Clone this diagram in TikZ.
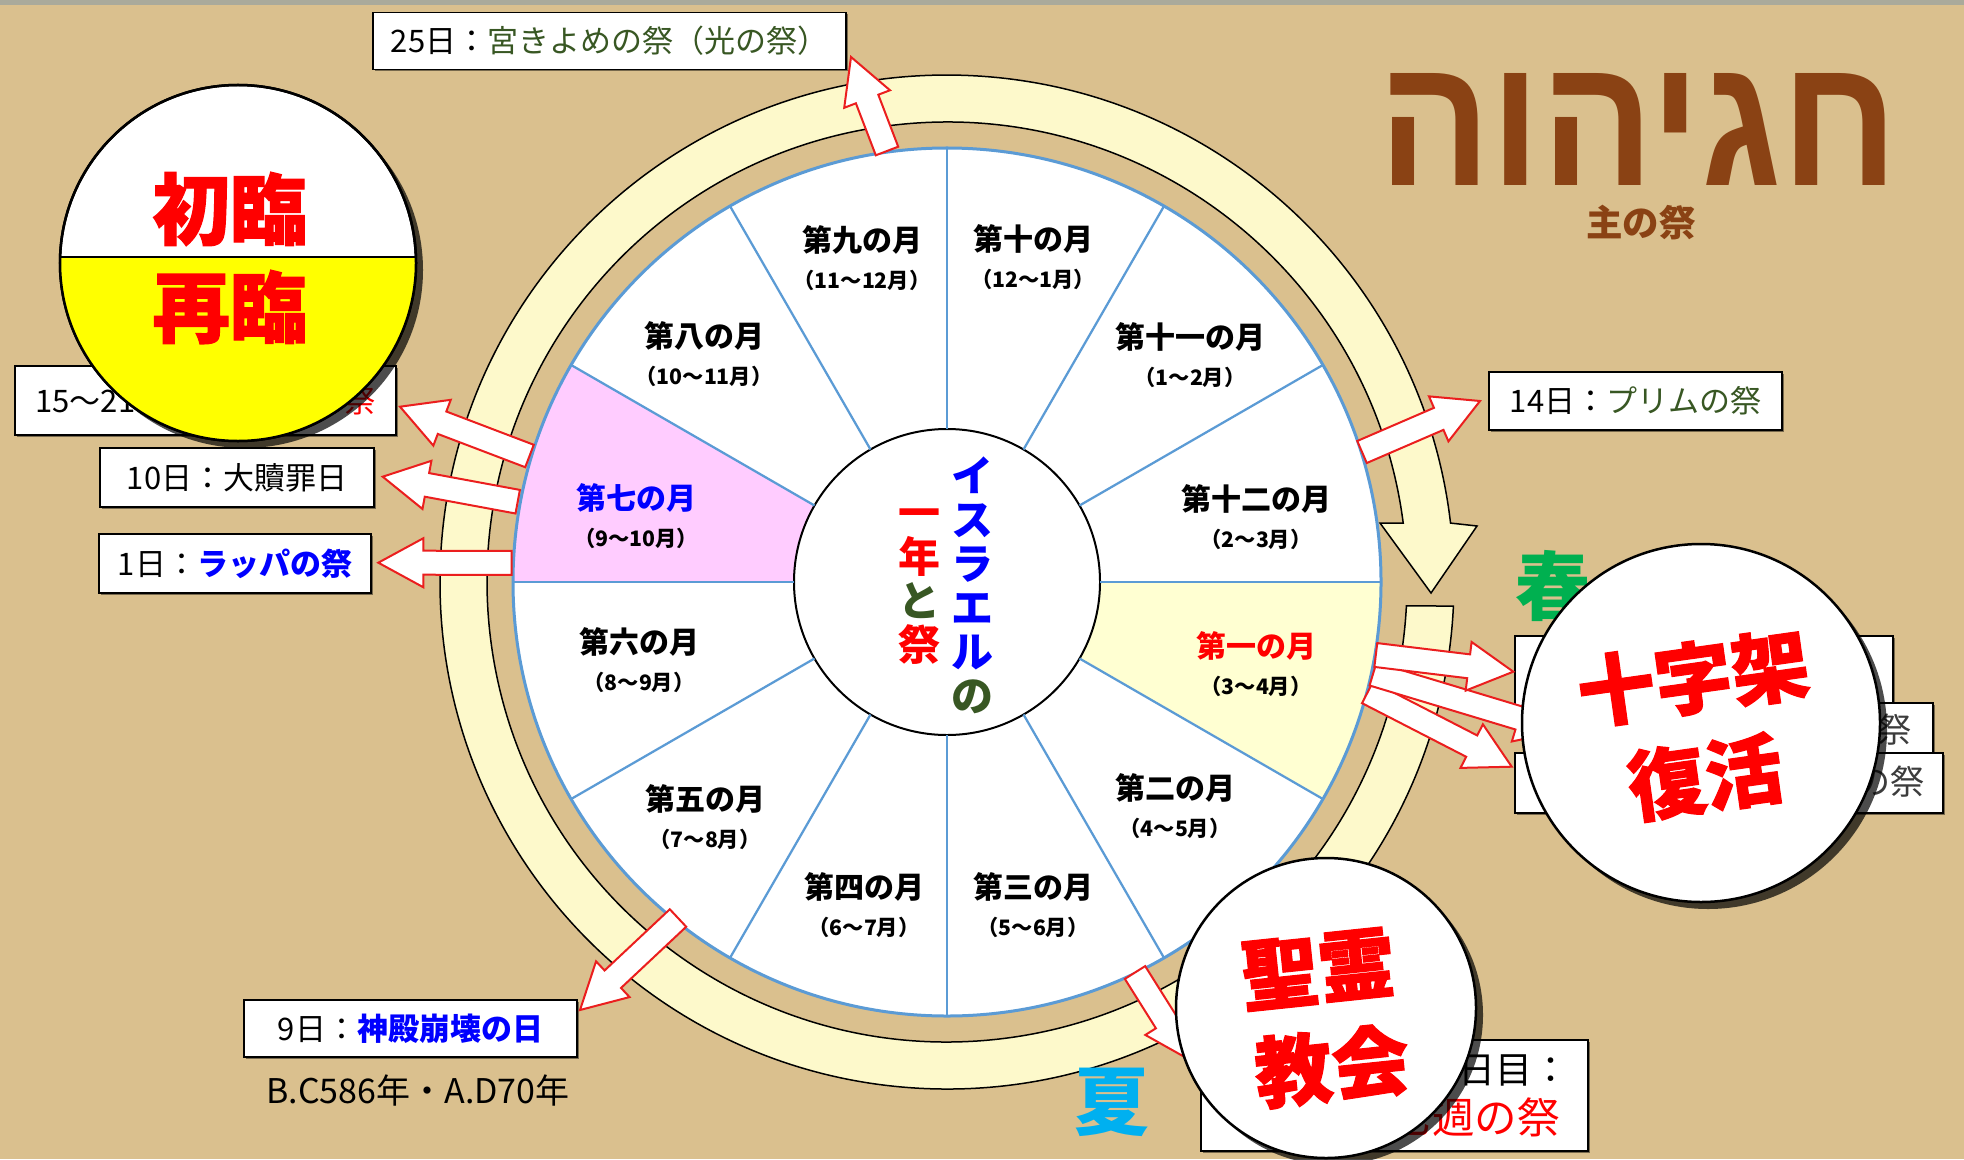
\documentclass[tikz,border=0pt]{standalone}
\usepackage{fontspec}
\usepackage{graphicx}
\setmainfont{Noto Sans CJK JP}
\newfontfamily\jpheavy[BoldFeatures={FakeBold=1.5}]{Noto Sans CJK JP}
\newfontfamily\hebfont[Script=Hebrew]{Liberation Sans}
\TeXXeTstate=1
\usetikzlibrary{calc,shadows}
\definecolor{bg}{RGB}{218,192,142}
\definecolor{topstrip}{RGB}{170,170,155}
\definecolor{ringfill}{RGB}{253,249,203}
\definecolor{mon1}{RGB}{255,255,210}
\definecolor{mon7}{RGB}{255,204,255}
\definecolor{wheelblue}{RGB}{91,155,213}
\definecolor{dgreen}{RGB}{56,87,35}
\definecolor{jblue}{RGB}{0,0,255}
\definecolor{jred}{RGB}{255,0,0}
\definecolor{brownt}{RGB}{138,66,20}
\definecolor{summer}{RGB}{0,176,240}
\definecolor{spring}{RGB}{0,176,80}
\definecolor{arrowred}{RGB}{235,30,30}
\definecolor{yel}{RGB}{255,255,0}
\definecolor{greytxt}{RGB}{60,60,60}
\tikzset{
  blk/.style={draw=arrowred, fill=white, line width=0.8pt, line join=miter},
  fbox/.style={draw=black, fill=white, line width=0.6pt, inner sep=0pt, outer sep=0pt,
    font=\fontsize{12.4pt}{15pt}\selectfont,
    drop shadow={shadow xshift=0.8pt, shadow yshift=-0.8pt, opacity=0.45, fill=black}},
  txt/.style={inner sep=0pt, font=\fontsize{12.4pt}{15pt}\selectfont},
  month/.style={align=center, inner sep=0pt, font=\fontsize{12pt}{15pt}\selectfont\bfseries},
  ctext/.style={align=center, inner sep=0pt, font=\fontsize{16.8pt}{17.6pt}\selectfont\bfseries},
  bigcirc/.style={circle, draw=black, fill=white, line width=1pt, inner sep=0pt, outer sep=0pt,
    drop shadow={shadow xshift=2.8pt, shadow yshift=-2.8pt, opacity=0.7, fill=black}},
  bigtxt/.style={inner sep=0pt, font=\jpheavy\fontsize{31pt}{31pt}\selectfont\bfseries, text=jred},
  season/.style={inner sep=0pt, font=\fontsize{30pt}{30pt}\selectfont\bfseries},
}
\newcommand{\subm}[1]{{\fontsize{8.5pt}{15pt}\selectfont #1}}
\newcommand{\blockarrow}[3]{%
  \coordinate (#1h) at ($(#3)!18pt!(#2)$);
  \filldraw[blk] ($(#2)!4.8pt!90:(#3)$) -- ($(#1h)!4.8pt!90:(#3)$) -- ($(#1h)!9.8pt!90:(#3)$)
    -- (#3) -- ($(#1h)!9.8pt!-90:(#3)$) -- ($(#1h)!4.8pt!-90:(#3)$) -- ($(#2)!4.8pt!-90:(#3)$) -- cycle;}
\begin{document}
\begin{tikzpicture}[x=0.4pt,y=-0.4pt]
\useasboundingbox (0,0) rectangle (1964,1159);
\fill[bg] (0,0) rectangle (1964,1159);
\fill[topstrip] (0,0) rectangle (1964,5);

% ring arrow
\filldraw[fill=ringfill, draw=black, line width=0.6pt]
  (1453.4,606) arc[start angle=2.71,end angle=353.32,radius=507]
  -- (1477,526) -- (1431,593) -- (1380,523) -- (1403.2,523)
  arc[start angle=352.63,end angle=2.99,radius=460] -- cycle;

% wheel
\fill[white] (947,582) circle[radius=434];
\fill[mon1] (947,582) -- +(0:434) arc[start angle=0,end angle=30,radius=434] -- cycle;
\fill[mon7] (947,582) -- +(180:434) arc[start angle=180,end angle=210,radius=434] -- cycle;
\node[circle, draw=wheelblue, line width=1.2pt, minimum size=347.2pt, inner sep=0pt, outer sep=0pt] (wheel) at (947,582) {};
\node[circle, draw=black, fill=white, line width=0.8pt, minimum size=122.4pt, inner sep=0pt, outer sep=0pt] (hub) at (947,582) {};
\foreach \a in {0,30,...,330} \draw[wheelblue, line width=0.9pt] (hub.\a) -- (wheel.\a);

% month labels
\node[month] (m1) at (1256,664) {\textcolor{jred}{第一の月}\\\subm{（3～4月）}};
\node[month] (m2) at (1175,806) {第二の月\\\subm{（4～5月）}};
\node[month] (m3) at (1033,905) {第三の月\\\subm{（5～6月）}};
\node[month] (m4) at (864,905) {第四の月\\\subm{（6～7月）}};
\node[month] (m5) at (705,817) {第五の月\\\subm{（7～8月）}};
\node[month] (m6) at (639,660) {第六の月\\\subm{（8～9月）}};
\node[month] (m7) at (636,516) {\textcolor{jblue}{第七の月}\\\subm{（9～10月）}};
\node[month] (m8) at (704,354) {第八の月\\\subm{（10～11月）}};
\node[month] (m9) at (862,258) {第九の月\\\subm{（11～12月）}};
\node[month] (m10) at (1033,257) {第十の月\\\subm{（12～1月）}};
\node[month] (m11) at (1190,355) {第十一の月\\\subm{（1～2月）}};
\node[month] (m12) at (1256,517) {第十二の月\\\subm{（2～3月）}};

% centre text
\node[ctext, text=jblue] (isr) at (972.5,585) {イ\\ス\\ラ\\エ\\ル\\\textcolor{dgreen}{の}};
\node[ctext, text=jred] (nen) at (919,587) {一\\年\\\textcolor{dgreen}{と}\\祭};

% boxes
\node[fbox, minimum width=189.2pt, minimum height=22.8pt] (b25) at (609.5,41) {25日：\textcolor{dgreen}{宮きよめの祭（光の祭）}};
\node[fbox, minimum width=117.2pt, minimum height=23.2pt] (b14) at (1635.5,401) {14日：\textcolor{dgreen}{プリムの祭}};
\node[fbox, minimum width=152.4pt, minimum height=27.6pt] (b15) at (205.5,400.5) {\makebox[136pt][l]{15～21日：\hfill\textcolor{jred}{仮庵の祭}}};
\node[fbox, minimum width=109.6pt, minimum height=23.6pt] (b10) at (237,477.5) {10日：大贖罪日};
\node[fbox, minimum width=108.8pt, minimum height=23.6pt] (b1) at (235,563.5) {1日：\textcolor{jblue}{\bfseries ラッパの祭}};
\node[fbox, minimum width=133.2pt, minimum height=22.8pt] (b9) at (410.5,1028.5) {9日：\textcolor{jblue}{\bfseries 神殿崩壊の日}};
\node[txt, font=\fontsize{13.6pt}{15pt}\selectfont] (bcad) at (418,1090) {B.C586年・A.D70年};
\node[fbox, minimum width=151.2pt, minimum height=28.8pt] (r1) at (1704,672) {};
\node[fbox, minimum width=133.2pt, minimum height=20pt] (r2) at (1766.5,728) {};
\node[fbox, minimum width=171.2pt, minimum height=24pt] (r3) at (1729,783) {};
\node[txt, anchor=east, text=greytxt, font=\fontsize{13.6pt}{15pt}\selectfont] (r2t) at (1912,730) {祭};
\node[txt, anchor=east, text=greytxt, font=\fontsize{13.6pt}{15pt}\selectfont] (r3t) at (1925,782) {の祭};
\node[fbox, minimum width=154.8pt, minimum height=44.4pt] (b50) at (1394.5,1095.5) {};
\node[txt, anchor=east, font=\fontsize{14.8pt}{15pt}\selectfont] (b50a) at (1570,1070) {50日目：};
\node[txt, anchor=east, text=jred, font=\fontsize{17pt}{17pt}\selectfont] (b50b) at (1560,1117) {七週の祭};

% block arrows
\coordinate (t1) at (887,151);   \coordinate (p1) at (851,57);
\coordinate (t2) at (1362,452);  \coordinate (p2) at (1480,401);
\coordinate (t3) at (529.5,456); \coordinate (p3) at (400,406.7);
\coordinate (t4) at (517.7,501.7); \coordinate (p4) at (382.7,476.7);
\coordinate (t5) at (511.7,562.8); \coordinate (p5) at (378.3,562.7);
\coordinate (t6) at (678,918);   \coordinate (p6) at (580,1010);
\coordinate (t7) at (1375.8,655); \coordinate (p7) at (1513.3,671.7);
\coordinate (t8) at (1373,674);  \coordinate (p8) at (1562,731);
\coordinate (t9) at (1367.5,692.5); \coordinate (p9) at (1511.7,766.7);
\coordinate (t10) at (1135,972.5); \coordinate (p10) at (1190,1060);
\blockarrow{a1}{t1}{p1}
\blockarrow{a2}{t2}{p2}
\blockarrow{a3}{t3}{p3}
\blockarrow{a4}{t4}{p4}
\blockarrow{a5}{t5}{p5}
\blockarrow{a6}{t6}{p6}
\blockarrow{a9}{t9}{p9}
\blockarrow{a8}{t8}{p8}
\blockarrow{a7}{t7}{p7}
\blockarrow{a10}{t10}{p10}

% seasons
\node[season, text=spring] (haru) at (1553,586) {春};
\node[season, text=summer] (natsu) at (1112,1102) {夏};

% top-left circle
\node[bigcirc, minimum size=142.4pt] (adv) at (238,263) {};
\begin{scope}
  \clip (238,263) circle[radius=177.5];
  \fill[yel] (40,257) rectangle (440,450);
\end{scope}
\draw[line width=1pt] (adv.west |- 0,257) -- (adv.east |- 0,257);
\node[circle, draw=black, line width=1pt, minimum size=142.4pt, inner sep=0pt, outer sep=0pt] (advo) at (238,263) {};
\node[bigtxt] (shorin) at (230,209) {初臨};
\node[bigtxt] (sairin) at (230,307) {再臨};

% cross circle
\node[bigcirc, minimum size=143.2pt] (cross) at (1701,723) {};
\node[bigtxt, rotate=8] (jujika) at (1693,678) {十字架};
\node[bigtxt, rotate=8] (fukkatsu) at (1705,777) {復活};

% spirit circle
\node[bigcirc, minimum size=120pt] (spirit) at (1326,1008) {};
\node[bigtxt, rotate=6] (seirei) at (1318,969) {聖霊};
\node[bigtxt, rotate=6] (kyokai) at (1332,1066) {教会};

% title
\node[inner sep=0pt, text=brownt] (heb) at (1638,129) {\resizebox{208pt}{44.8pt}{\hebfont\bfseries\beginR חגיהוה\endR}};
\node[inner sep=0pt, text=brownt, font=\fontsize{14.6pt}{15pt}\selectfont\bfseries] (shu) at (1641,223) {主の祭};
\end{tikzpicture}
\end{document}
